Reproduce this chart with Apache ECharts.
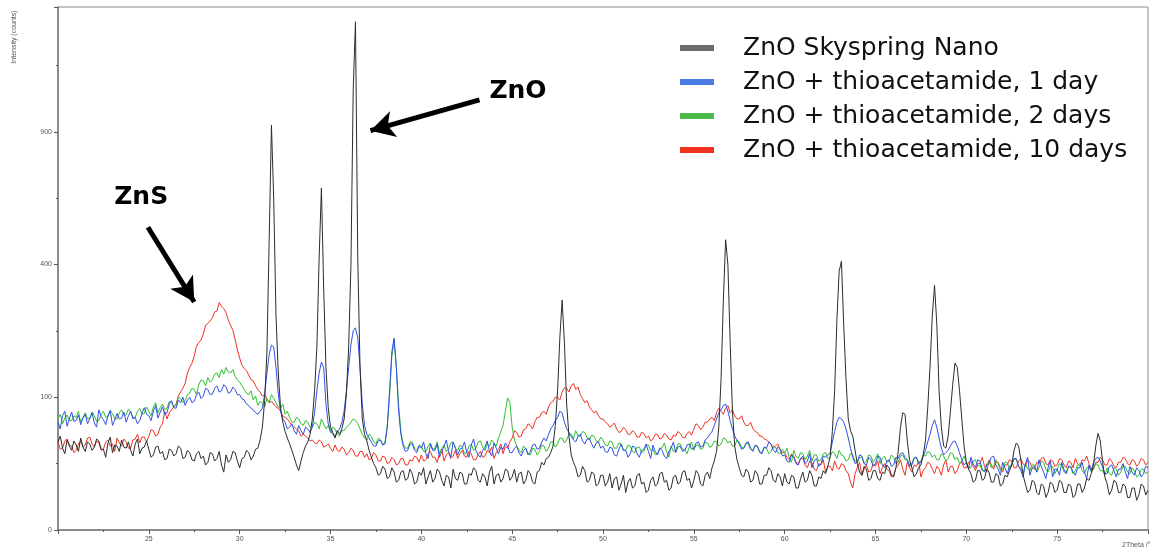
<!DOCTYPE html>
<html>
<head>
<meta charset="utf-8">
<script src="https://cdn.jsdelivr.net/npm/echarts@6/dist/echarts.min.js"></script>
<style>
html,body{margin:0;padding:0;background:#fff;}
#chart{width:1151px;height:552px;}
</style>
</head>
<body>
<div id="chart"></div>
<script>
// ---- data (2-theta scan from 20 deg to 80 deg, step 0.125 deg; intensities in counts) ----
const ANGLE_START = 20;
const ANGLE_STEP = 0.125;

const seriesNames = [
  'ZnO Skyspring Nano',
  'ZnO + thioacetamide, 1 day',
  'ZnO + thioacetamide, 2 days',
  'ZnO + thioacetamide, 10 days'
];

const skyspringNano = [
  44,50,38,33,46,40,36,45,41,35,48,39,35,44,42,36,39,47,45,37,37,30,43,49,34,41,40,35,46,39,38,44,36,31,42,47,33,38,39,45,
  37,30,32,39,40,33,35,28,29,37,36,31,33,40,38,29,30,36,34,28,27,33,35,29,31,24,26,34,33,27,29,35,24,19,32,26,28,35,34,27,
  22,29,30,36,34,28,31,37,38,46,60,95,180,480,930,620,260,140,85,66,55,48,42,36,30,24,20,27,34,40,44,52,70,110,190,420,664,330,150,85,
  60,54,48,56,52,58,70,105,190,400,1100,1466,420,150,70,52,45,36,30,25,22,17,18,23,21,15,16,22,19,13,14,19,20,14,15,21,18,12,13,19,
  17,22,12,16,20,13,15,21,19,14,11,17,16,10,21,15,14,19,18,12,12,18,17,22,20,14,13,18,16,11,19,23,12,17,18,13,15,21,20,14,
  16,21,13,18,19,12,14,20,18,13,12,19,20,26,24,29,30,34,40,62,110,210,300,200,90,50,32,26,22,16,17,23,20,13,14,19,18,11,12,17,
  17,11,13,18,10,15,16,9,12,17,8,13,15,10,11,17,18,12,13,8,9,14,16,11,12,18,19,13,14,9,10,16,17,12,13,19,20,14,15,10,
  14,20,18,12,11,17,19,15,22,27,35,60,130,300,478,400,200,80,40,28,22,17,16,21,19,13,14,20,18,12,12,17,17,22,20,14,13,18,16,11,
  18,13,12,17,16,10,10,15,19,13,14,20,17,11,11,16,15,20,18,23,30,55,110,250,380,410,240,130,70,56,50,36,25,19,17,23,21,14,15,20,
  20,15,14,19,18,24,22,17,16,22,35,60,78,76,45,28,22,16,18,22,24,32,45,85,150,260,340,240,110,60,40,38,50,80,120,158,150,110,70,40,
  26,21,18,13,14,20,20,14,15,21,19,13,13,18,17,11,12,17,16,20,24,36,43,40,28,17,12,8,9,14,13,8,7,12,11,6,8,13,12,8,
  9,14,13,8,8,12,11,6,7,12,12,8,10,15,14,18,24,40,53,45,26,16,12,7,9,14,13,8,8,12,11,6,6,10,10,5,7,12,11,7,9
];

const thioOneDay = [
  66,58,74,80,61,70,79,67,68,75,63,71,76,64,70,78,65,60,82,73,69,63,74,81,62,69,77,70,71,79,66,74,80,70,72,64,68,77,85,76,
  74,68,80,88,71,79,86,76,78,90,95,85,84,96,92,100,88,96,100,92,94,104,108,98,102,114,112,104,105,114,118,108,110,120,116,106,108,116,112,104,
  104,98,96,90,88,84,82,78,76,80,84,105,140,175,194,190,150,105,80,70,66,58,60,64,56,52,62,56,52,60,58,54,60,78,110,140,160,150,90,64,
  56,52,50,55,58,66,80,110,150,195,225,232,210,150,90,62,52,48,44,40,40,45,46,41,42,60,110,180,209,150,80,52,40,35,36,42,42,36,34,40,
  38,44,33,29,42,36,36,42,30,35,40,46,35,30,44,38,32,37,38,44,34,30,41,47,36,32,30,36,39,45,35,31,43,38,33,39,37,43,40,34,
  34,38,40,34,31,36,38,32,35,41,42,37,38,44,48,45,52,58,62,68,72,80,78,66,58,54,50,46,44,50,52,45,42,47,48,42,38,43,44,38,
  40,35,34,39,38,32,31,37,42,36,36,30,33,40,39,33,30,36,37,42,35,29,41,35,32,38,36,31,29,35,38,44,34,39,40,35,36,41,42,37,
  38,43,44,39,40,46,48,52,55,62,70,78,82,88,90,80,68,58,50,46,42,37,38,43,44,38,35,41,40,34,33,39,38,44,42,36,34,39,37,31,
  32,27,26,32,30,25,24,29,31,25,27,33,22,27,29,23,25,31,30,32,34,44,55,66,72,70,66,58,48,38,30,25,26,32,31,25,24,30,28,23,
  25,31,30,24,22,27,28,23,24,30,29,33,34,30,28,23,24,29,30,25,26,31,36,44,52,62,69,60,48,38,32,34,36,40,44,45,40,34,28,24,
  26,21,30,25,22,28,27,21,19,24,25,30,31,24,21,17,26,22,18,23,24,29,29,23,20,16,25,30,17,22,23,19,28,23,19,15,22,27,16,21,
  21,17,26,21,18,23,23,19,17,22,22,26,19,15,24,20,26,29,30,27,22,18,18,23,24,20,16,21,21,25,19,15,23,19,17,22,20,16,18,23,22
];

const thioTwoDays = [
  70,76,64,71,75,68,68,74,72,80,66,72,78,70,71,79,74,67,68,76,80,72,73,81,77,70,70,78,82,75,75,83,79,72,72,80,84,76,77,86,
  80,74,86,92,78,85,90,82,84,94,92,86,88,100,98,92,95,104,106,114,112,104,120,128,126,118,132,124,128,138,140,132,146,138,150,142,140,146,134,128,
  124,118,112,106,104,110,96,102,88,94,92,86,98,92,104,98,92,86,84,90,76,80,72,66,66,72,70,64,62,68,66,60,60,66,64,58,70,64,58,62,
  54,60,58,52,50,56,56,60,62,66,70,68,64,58,52,48,46,52,50,44,42,48,46,41,44,62,100,170,205,150,88,55,42,38,38,44,44,38,36,41,
  40,35,35,40,43,37,38,44,33,38,41,35,37,43,44,38,36,41,39,33,34,40,42,36,38,44,45,39,36,42,40,46,43,40,48,55,62,80,99,92,
  60,46,40,36,34,40,38,33,32,38,37,32,35,41,40,35,38,44,44,39,42,48,48,43,46,52,52,47,56,50,50,55,54,48,46,51,50,45,44,49,
  46,41,40,45,44,38,38,43,42,36,36,41,40,35,34,39,39,34,35,41,41,36,37,32,33,38,38,43,35,30,40,35,36,42,42,37,37,33,39,44,
  36,41,41,37,38,44,43,39,40,45,44,40,42,48,47,43,45,40,40,46,44,39,38,43,42,37,36,40,40,35,34,39,38,33,35,40,39,34,33,37,
  34,38,30,26,36,31,29,34,33,28,31,36,27,32,32,27,28,33,34,29,30,35,33,29,36,32,31,27,28,33,32,27,26,30,30,25,27,32,31,26,
  29,33,25,29,31,26,27,32,30,25,26,31,32,28,28,24,25,30,30,26,27,32,31,35,34,30,32,28,28,33,31,27,29,34,33,28,30,25,27,31,
  26,22,22,27,28,23,24,20,20,25,27,22,23,28,25,20,21,26,26,21,24,29,28,23,22,18,25,21,20,24,24,19,22,27,26,21,19,23,23,18,
  21,25,24,19,19,23,22,18,20,24,25,20,18,22,23,19,21,25,24,20,20,17,22,18,17,22,21,17,19,23,23,19,18,22,20,16,17,21,21,18,19
];

const thioTenDays = [
  44,37,38,45,47,41,40,34,36,42,45,39,41,48,49,42,39,45,43,36,37,44,46,40,42,35,48,43,40,47,44,38,38,46,47,52,43,49,49,44,
  50,57,56,50,52,60,64,80,70,78,82,86,90,102,108,114,122,140,150,158,172,192,200,205,218,238,242,248,256,270,272,294,284,278,268,250,238,226,206,184,
  168,154,148,144,136,128,126,118,112,108,102,104,98,92,94,90,86,84,80,74,72,70,66,62,60,58,56,50,52,50,48,45,46,43,42,46,44,39,40,42,
  38,35,41,36,35,39,37,32,34,38,36,31,31,35,35,30,33,28,29,34,32,27,27,31,30,25,26,30,28,24,25,29,29,24,24,28,27,31,30,26,
  32,27,28,33,35,30,30,26,33,37,27,32,34,29,31,36,29,33,36,31,30,35,33,28,28,32,35,30,31,36,34,39,29,34,37,42,33,40,38,44,
  48,56,54,49,50,57,58,64,62,58,66,72,72,78,80,76,86,92,94,100,100,96,108,115,114,108,118,122,112,116,104,98,92,95,86,82,78,80,74,70,
  70,66,64,60,62,65,58,54,55,60,57,52,52,56,54,49,49,54,53,48,50,45,47,52,52,47,48,53,51,47,46,51,50,55,53,49,48,53,55,51,
  58,64,62,57,60,66,66,70,72,68,78,84,80,76,84,88,78,82,74,70,70,74,66,62,62,66,58,55,54,50,50,47,46,44,42,38,40,42,37,34,
  34,30,28,33,31,26,25,29,29,24,22,27,26,21,20,25,24,28,19,23,23,20,27,22,21,25,24,20,18,13,10,18,22,26,17,21,24,19,20,25,
  23,27,18,22,25,21,20,16,17,22,24,28,21,17,26,22,19,24,23,27,16,20,22,26,25,21,18,23,21,17,24,28,19,23,23,18,20,25,26,22,
  22,26,27,23,20,25,25,30,23,19,28,24,21,26,26,22,19,24,24,28,27,22,22,27,29,25,23,28,26,22,21,26,25,29,30,25,24,28,27,23,
  24,29,28,24,22,27,26,22,29,25,23,28,27,31,25,21,21,26,26,30,28,24,24,29,27,23,22,26,26,30,29,25,24,28,27,23,25,29,28,24,26
];

const yTickCounts = [0, 100, 400, 900];
const xTickLabels = [25, 30, 35, 40, 45, 50, 55, 60, 65, 70, 75];

// ---- chart ----
// intensity axis is a square-root scale (as in the diffractometer software)
const sq = v => Math.sqrt(v);
const toPairs = arr => arr.map((c, i) => [ANGLE_START + i * ANGLE_STEP, sq(c)]);

const lineColors = ['#2c2c2c', '#3050e6', '#2fbf2f', '#f03222'];
const legendColors = ['#6b6b6b', '#4a7be6', '#4cbb4c', '#f2321e'];
const seriesData = [skyspringNano, thioOneDay, thioTwoDays, thioTenDays];

const FONT = "'DejaVu Sans', 'Liberation Sans', sans-serif";
const SMALL_FONT = "'Liberation Sans', Arial, sans-serif";

function makeSeries(idx, z) {
  return {
    name: seriesNames[idx],
    type: 'line',
    data: toPairs(seriesData[idx]),
    showSymbol: false,
    symbol: 'none',
    color: lineColors[idx],
    lineStyle: { width: 1, color: lineColors[idx] },
    z: z,
    animation: false,
    silent: true
  };
}

const chart = echarts.init(document.getElementById('chart'));

const blackSeries = makeSeries(0, 5);
blackSeries.markLine = {
  silent: true,
  animation: false,
  symbol: ['none', 'arrow'],
  symbolSize: [20, 24],
  lineStyle: { color: '#000', width: 5, type: 'solid' },
  label: { show: false },
  emphasis: { disabled: true },
  data: [
    [{ coord: [43.2, sq(1050)] }, { coord: [37.2, sq(905)] }],
    [{ coord: [24.95, sq(520)] }, { coord: [27.5, sq(295)] }]
  ]
};
blackSeries.markPoint = {
  silent: true,
  animation: false,
  symbol: 'rect',
  symbolSize: 1,
  itemStyle: { color: 'rgba(0,0,0,0)' },
  label: {
    show: true,
    position: 'inside',
    formatter: p => p.name,
    fontFamily: FONT,
    fontWeight: 'bold',
    fontSize: 25,
    color: '#000'
  },
  data: [
    { name: 'ZnO', coord: [45.32, sq(1089)] },
    { name: 'ZnS', coord: [24.58, sq(626)] }
  ]
};

const option = {
  backgroundColor: '#fff',
  animation: false,
  grid: {
    left: 58, right: 3, top: 7, bottom: 22,
    show: true, borderColor: '#8a8a8a', borderWidth: 1
  },
  legend: {
    orient: 'vertical',
    left: 680,
    top: 35,
    padding: 0,
    itemWidth: 34,
    itemHeight: 6,
    itemGap: 8,
    icon: 'rect',
    selectedMode: false,
    textStyle: {
      fontFamily: FONT,
      fontSize: 25,
      lineHeight: 26,
      color: '#111',
      padding: [0, 0, 0, 24]
    },
    data: seriesNames.map((n, i) => ({ name: n, itemStyle: { color: legendColors[i], borderWidth: 0 } }))
  },
  xAxis: {
    type: 'value',
    min: 20,
    max: 80,
    interval: 5,
    axisLine: { show: true, onZero: false, lineStyle: { color: '#7a7a7a', width: 1.5 } },
    axisTick: { show: true, length: 4, lineStyle: { color: '#555' } },
    minorTick: { show: true, splitNumber: 2, length: 2, lineStyle: { color: '#555' } },
    axisLabel: {
      fontSize: 7, color: '#555', margin: 6, fontFamily: SMALL_FONT,
      formatter: v => (xTickLabels.indexOf(v) >= 0 ? String(v) : '')
    },
    splitLine: { show: false }
  },
  yAxis: {
    type: 'value',
    min: 0,
    max: 39.4,
    interval: 10,
    axisLine: { show: true, lineStyle: { color: '#7a7a7a', width: 1.5 } },
    axisTick: { show: true, length: 4, lineStyle: { color: '#555' } },
    minorTick: { show: true, splitNumber: 2, length: 2, lineStyle: { color: '#555' } },
    axisLabel: {
      fontSize: 7, color: '#555', margin: 6, fontFamily: SMALL_FONT,
      formatter: v => {
        const c = Math.round(v * v);
        return (Math.abs(v - Math.round(v)) < 1e-6 && yTickCounts.indexOf(c) >= 0) ? String(c) : '';
      }
    },
    splitLine: { show: false }
  },
  series: [
    makeSeries(3, 2),
    makeSeries(2, 3),
    makeSeries(1, 4),
    blackSeries
  ],
  graphic: [
    {
      type: 'text',
      x: 14, y: 37,
      rotation: Math.PI / 2,
      style: {
        text: 'Intensity (counts)',
        fontSize: 7, fontFamily: SMALL_FONT, fill: '#555',
        align: 'center', verticalAlign: 'middle'
      }
    },
    {
      type: 'text',
      x: 1122, y: 542,
      style: {
        text: '2Theta /°',
        fontSize: 7, fontFamily: SMALL_FONT, fill: '#555'
      }
    }
  ]
};

chart.setOption(option);
</script>
</body>
</html>
